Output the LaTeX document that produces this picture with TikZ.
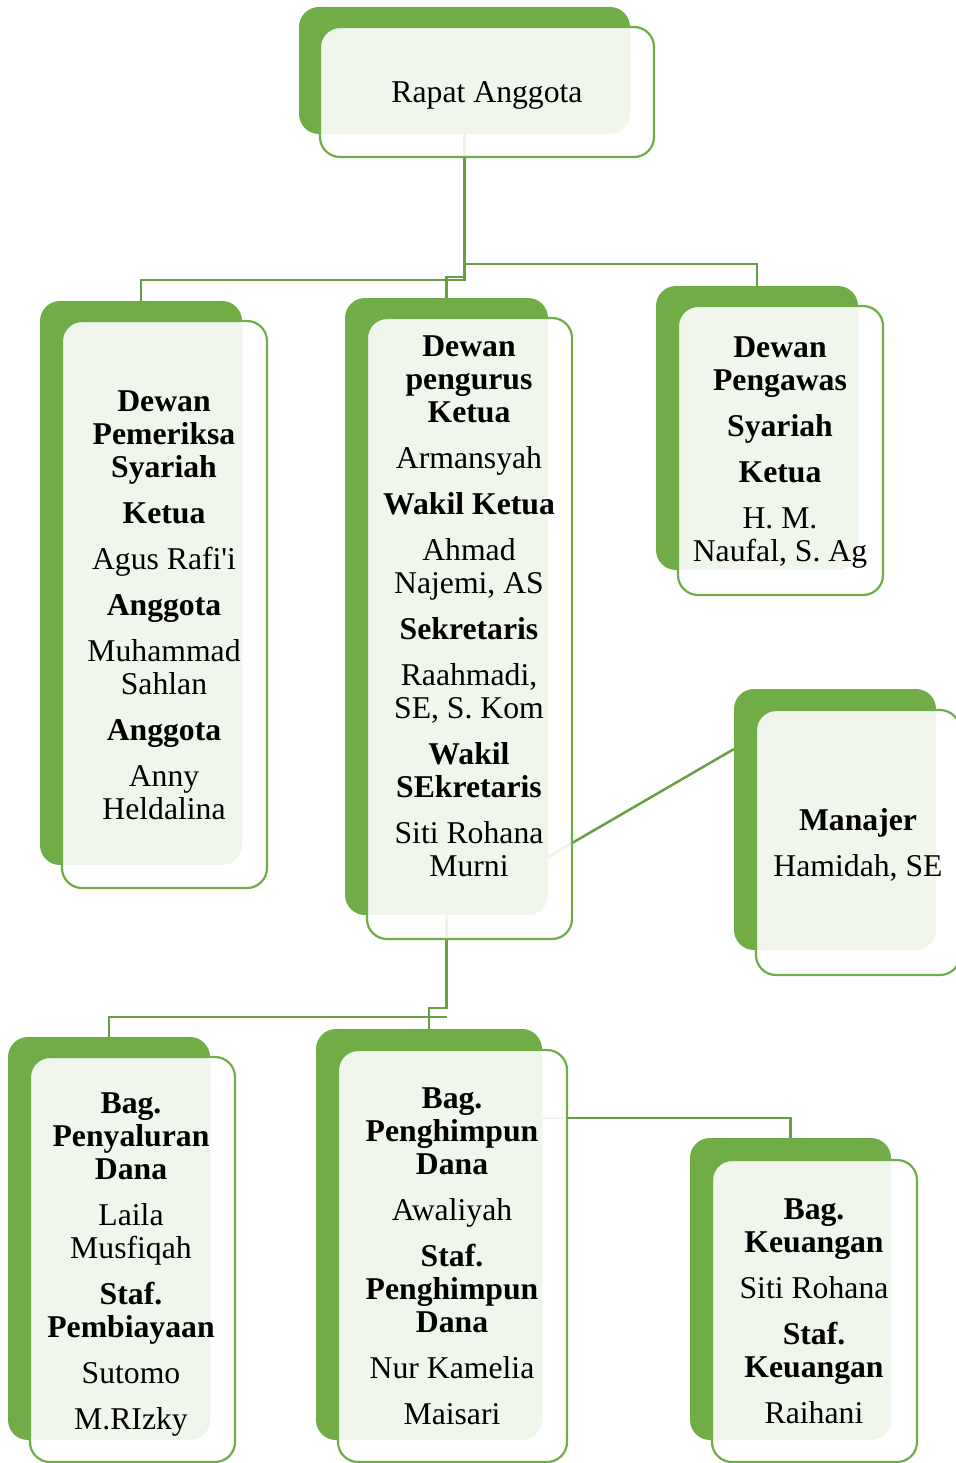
\documentclass[tikz,border=0pt]{standalone}
\usepackage{fontspec}
\setmainfont{Liberation Serif}[Ligatures=TeXOff]
\pgfdeclarelayer{bg}
\pgfsetlayers{bg,main}
\definecolor{gr}{HTML}{70AD47}
\definecolor{cn}{HTML}{66A040}
\begin{document}
\begin{tikzpicture}[x=1pt,y=-1pt,
  back/.style={fill=gr,draw=none,rounded corners=20pt,inner sep=0pt,outer sep=0pt},
  front/.style={fill=white,fill opacity=0.9,draw=gr,draw opacity=1,line width=2.2pt,rounded corners=20pt,inner sep=0pt,outer sep=0pt},
  txt/.style={align=center,font=\fontsize{31.7}{33}\selectfont,inner sep=0pt,text opacity=1},
  conn/.style={draw=cn,line width=2.5pt}]
\useasboundingbox (0,0) rectangle (955,1463);
% boxes
\node[back,minimum width=331,minimum height=127] (b1) at (464.5,70.5) {};
\node[front,minimum width=334,minimum height=130] (f1) at (487,92) {};
\node[back,minimum width=202,minimum height=564] (b2) at (141,583) {};
\node[front,minimum width=205,minimum height=567] (f2) at (164.5,604.5) {};
\node[back,minimum width=203,minimum height=617] (b3) at (446.5,606.5) {};
\node[front,minimum width=205,minimum height=621] (f3) at (469.5,628.5) {};
\node[back,minimum width=202,minimum height=284] (b4) at (757,428) {};
\node[front,minimum width=205,minimum height=289] (f4) at (780.5,450.5) {};
\node[back,minimum width=202,minimum height=261] (b5) at (835,819.5) {};
\node[front,minimum width=204,minimum height=265] (f5) at (858,842.5) {};
\node[back,minimum width=202,minimum height=403] (b6) at (109,1238.5) {};
\node[front,minimum width=205,minimum height=405] (f6) at (132.5,1259.5) {};
\node[back,minimum width=226,minimum height=411] (b7) at (429,1234.5) {};
\node[front,minimum width=229,minimum height=412] (f7) at (452.5,1256) {};
\node[back,minimum width=201,minimum height=302] (b8) at (790.5,1289) {};
\node[front,minimum width=205,minimum height=302] (f8) at (814.5,1311) {};
% texts
\node[txt] (t1) at (487,95) {Rapat Anggota};
\node[txt] (t2) at (164,605) {\textbf{Dewan}\\\textbf{Pemeriksa}\\\textbf{Syariah}\\[13pt]\textbf{Ketua}\\[13pt]Agus Rafi'i\\[13pt]\textbf{Anggota}\\[13pt]Muhammad\\Sahlan\\[13pt]\textbf{Anggota}\\[13pt]Anny\\Heldalina};
\node[txt] (t3) at (469,606) {\textbf{Dewan}\\\textbf{pengurus}\\\textbf{Ketua}\\[13pt]Armansyah\\[13pt]\textbf{Wakil Ketua}\\[13pt]Ahmad\\Najemi, AS\\[13pt]\textbf{Sekretaris}\\[13pt]Raahmadi,\\SE, S. Kom\\[13pt]\textbf{Wakil}\\\textbf{SEkretaris}\\[13pt]Siti Rohana\\Murni};
\node[txt] (t4) at (780,453) {\textbf{Dewan}\\\textbf{Pengawas}\\[13pt]\textbf{Syariah}\\[13pt]\textbf{Ketua}\\[13pt]H. M.\\Naufal, S. Ag};
\node[txt] (t5) at (858,845) {\textbf{Manajer}\\[13pt]Hamidah, SE};
\node[txt] (t6) at (131,1265) {\textbf{Bag.}\\\textbf{Penyaluran}\\\textbf{Dana}\\[13pt]Laila\\Musfiqah\\[13pt]\textbf{Staf.}\\\textbf{Pembiayaan}\\[13pt]Sutomo\\[13pt]M.RIzky};
\node[txt] (t7) at (452,1256) {\textbf{Bag.}\\\textbf{Penghimpun}\\\textbf{Dana}\\[13pt]Awaliyah\\[13pt]\textbf{Staf.}\\\textbf{Penghimpun}\\\textbf{Dana}\\[13pt]Nur Kamelia\\[13pt]Maisari};
\node[txt] (t8) at (814,1311) {\textbf{Bag.}\\\textbf{Keuangan}\\[13pt]Siti Rohana\\[13pt]\textbf{Staf.}\\\textbf{Keuangan}\\[13pt]Raihani};
% connectors
\coordinate (y264) at (0,264);
\coordinate (y277) at (0,277);
\coordinate (y280) at (0,280);
\coordinate (y1008) at (0,1008);
\coordinate (y1017) at (0,1017);
\coordinate (y1118) at (0,1118);
\coordinate (y857) at (0,857);
\coordinate (y749) at (0,749);
\begin{pgfonlayer}{bg}
\draw[conn] (b1.south) -- (b1.south |- y280) -| (b2.north);
\draw[conn] (b1.south |- y277) -| (b3.north);
\draw[conn] (b1.south |- y264) -| (b4.north);
\draw[conn] (b3.south) -- (b3.south |- y1008) -| (b7.north);
\draw[conn] (b3.south |- y1017) -| (b6.north);
\draw[conn] (b7.east |- y1118) -| (b8.north);
\draw[conn] (b3.east |- y857) -- (b5.west |- y749);
\end{pgfonlayer}
\end{tikzpicture}
\end{document}
